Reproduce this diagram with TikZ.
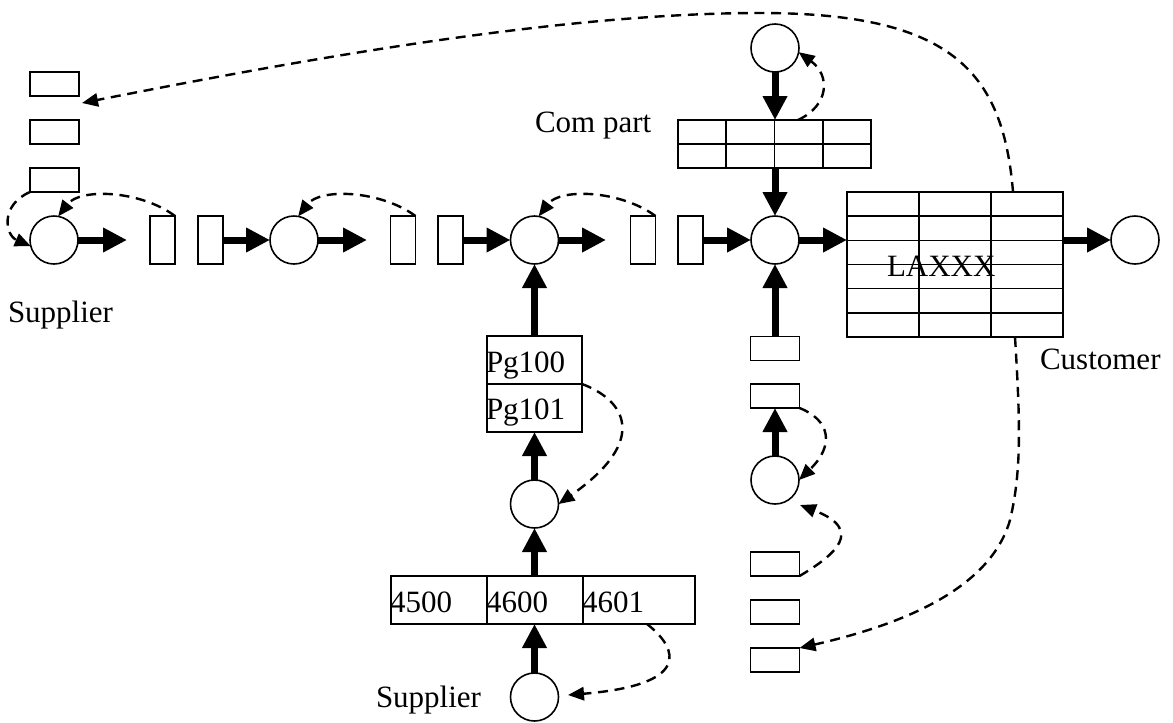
\documentclass[tikz,border=0pt]{standalone}
\usepackage{fontspec}
\setmainfont{Liberation Serif}
\usetikzlibrary{arrows.meta,calc}
\begin{document}
\begin{tikzpicture}[x=0.75pt,y=-0.75pt,
  every node/.style={inner sep=0pt,outer sep=0pt},
  circ/.style={draw,circle,minimum size=36pt,line width=1.2pt},
  vbox/.style={draw,rectangle,minimum width=18.75pt,minimum height=36pt,line width=1.2pt},
  hbox/.style={draw,rectangle,minimum width=36.75pt,minimum height=18pt,line width=1.2pt},
  tbl/.style={draw,rectangle,line width=1.2pt},
  grid line/.style={line width=1.2pt},
  thickarrow/.style={line width=5.25pt,-{Triangle[length=18pt,width=17.5pt]}},
  dasharrow/.style={line width=1.8pt,dash pattern=on 7.5pt off 5pt,-{Triangle[length=12pt,width=10pt]}},
  lbl/.style={anchor=base west,font=\fontsize{23.25}{28}\selectfont},
]
\useasboundingbox (0,0) rectangle (1173,722);

% circles
\node[circ] (C1) at (54,240) {};
\node[circ] (C2) at (294,240) {};
\node[circ] (C3) at (534.5,240) {};
\node[circ] (C4) at (775,240) {};
\node[circ] (C6) at (1135,240) {};
\node[circ] (CT) at (775,48) {};
\node[circ] (C5) at (775,480) {};
\node[circ] (C7) at (534.5,504) {};
\node[circ] (C8) at (534.5,697) {};

% thin vertical boxes
\node[vbox] (T1) at (162.5,240) {};
\node[vbox] (T2) at (210.5,240) {};
\node[vbox] (T3) at (403,240) {};
\node[vbox] (T4) at (450.5,240) {};
\node[vbox] (T5) at (643,240) {};
\node[vbox] (T6) at (690.5,240) {};

% small horizontal boxes
\node[hbox] (TL1) at (54.5,84) {};
\node[hbox] (TL2) at (54.5,132) {};
\node[hbox] (TL3) at (54.5,180) {};
\node[hbox] (R1) at (775,348.5) {};
\node[hbox] (R2) at (775,396) {};
\node[hbox] (R3) at (775,564) {};
\node[hbox] (R4) at (775,612) {};
\node[hbox] (R5) at (775,660) {};

% tables
\node[tbl,minimum width=144.75pt,minimum height=36pt] (CP) at (774.5,144) {};
\draw[grid line] (CP.west) -- (CP.east);
\foreach \f in {0.25,0.5,0.75}
  \draw[grid line] ($(CP.north west)!\f!(CP.north east)$) -- ($(CP.south west)!\f!(CP.south east)$);

\node[tbl,minimum width=162pt,minimum height=108.75pt] (LA) at (955,264.5) {};
\foreach \f in {0.3333,0.6667}
  \draw[grid line] ($(LA.north west)!\f!(LA.north east)$) -- ($(LA.south west)!\f!(LA.south east)$);
\foreach \f in {0.1667,0.3333,0.5,0.6667,0.8333}
  \draw[grid line] ($(LA.north west)!\f!(LA.south west)$) -- ($(LA.north east)!\f!(LA.south east)$);

\node[tbl,minimum width=71.25pt,minimum height=72pt] (PG) at (534.5,384) {};
\draw[grid line] (PG.west) -- (PG.east);

\node[tbl,minimum width=228pt,minimum height=36pt] (TB) at (543,600) {};
\foreach \f in {0.3158,0.6316}
  \draw[grid line] ($(TB.north west)!\f!(TB.north east)$) -- ($(TB.south west)!\f!(TB.south east)$);

% texts
\node[lbl] (lSup1) at (8,322) {Supplier};
\node[lbl] (lSup2) at (376,707) {Supplier};
\node[lbl] (lCom) at (535,132) {Com part};
\node[lbl] (lCust) at (1040,369) {Customer};
\node[lbl] (lLA) at (887,276) {LAXXX};
\node[lbl] (lPg0) at (486,372) {Pg100};
\node[lbl] (lPg1) at (486,419) {Pg101};
\node[lbl] (l4500) at (390,612) {4500};
\node[lbl] (l4600) at (486,612) {4600};
\node[lbl] (l4601) at (582,612) {4601};

% free ends
\coordinate (a1) at (127,240);
\coordinate (a2) at (367,240);
\coordinate (a3) at (606,240);

% thick arrows
\draw[thickarrow] (C1.east) -- (a1);
\draw[thickarrow] (T2.east) -- (C2.west);
\draw[thickarrow] (C2.east) -- (a2);
\draw[thickarrow] (T4.east) -- (C3.west);
\draw[thickarrow] (C3.east) -- (a3);
\draw[thickarrow] (T6.east) -- (C4.west);
\draw[thickarrow] (C4.east) -- (LA.west |- C4.east);
\draw[thickarrow] (LA.east |- C6.west) -- (C6.west);
\draw[thickarrow] (CT.south) -- (CT.south |- CP.north);
\draw[thickarrow] (CT.south |- CP.south) -- (C4.north);
\draw[thickarrow] (R1.north) -- (C4.south);
\draw[thickarrow] (C5.north) -- (R2.south);
\draw[thickarrow] (PG.north) -- (C3.south);
\draw[thickarrow] (C7.north) -- (PG.south);
\draw[thickarrow] (C7.south |- TB.north) -- (C7.south);
\draw[thickarrow] (C8.north) -- (C8.north |- TB.south);

% dashed arrows
\coordinate (d11end) at (82,103);
\coordinate (d7end) at (568,695);
\draw[dasharrow] (TL3.south west) .. controls (0,205) and (5,235) .. (C1.195);
\draw[dasharrow] (T1.north east) .. controls (140,190) and (80,188) .. (C1.80);
\draw[dasharrow] (T3.north east) .. controls (380,190) and (320,188) .. (C2.80);
\draw[dasharrow] (T5.north east) .. controls (620,190) and (560,188) .. (C3.80);
\draw[dasharrow] ($(CP.north)+(23.5,0)$) .. controls (830,105) and (830,75) .. (CT.-10);
\draw[dasharrow] (PG.east) .. controls (625,400) and (650,440) .. (C7.east);
\draw[dasharrow] ($(TB.south)+(104,0)$) .. controls (680,650) and (690,685) .. (d7end);
\draw[dasharrow] (R2.south east) .. controls (830,420) and (835,445) .. (C5.east);
\draw[dasharrow] (R3.south east) .. controls (835,555) and (865,530) .. ($(C5)+(25,25)$);
\draw[dasharrow] ($(LA.south)+(60,0)$) .. controls (1020,420) and (1022,470) .. (1010,520)
   .. controls (990,590) and (900,625) .. (R5.north east);
\draw[dasharrow] ($(LA.north)+(58,0)$) .. controls (1003,70) and (950,13) .. (760,13)
   .. controls (560,13) and (300,60) .. (d11end);
\end{tikzpicture}
\end{document}
